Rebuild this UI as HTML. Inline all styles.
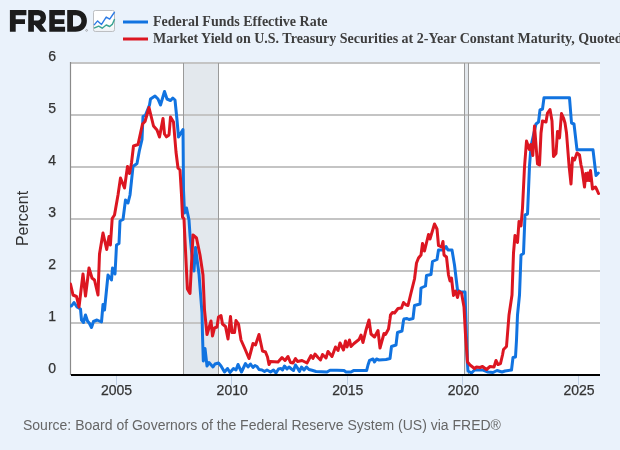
<!DOCTYPE html>
<html><head><meta charset="utf-8"><title>FRED</title>
<style>
html,body{margin:0;padding:0;background:#eaf2fb;}
body{width:620px;height:450px;overflow:hidden;font-family:"Liberation Sans",sans-serif;}
svg{display:block}
svg{will-change:transform;transform:translateZ(0)}
.ax{font-family:"Liberation Sans",sans-serif;font-size:14px;fill:#333;stroke:#333;stroke-width:0.25px}
.lg{font-family:"Liberation Serif",serif;font-size:14px;font-weight:bold;fill:#3e3e3e}
</style></head><body>
<svg width="620" height="450" viewBox="0 0 620 450">
<defs>
<linearGradient id="ig" x1="0" y1="0" x2="0" y2="1"><stop offset="0" stop-color="#ffffff"/><stop offset="0.6" stop-color="#ffffff"/><stop offset="1" stop-color="#eef1f4"/></linearGradient>
<clipPath id="cp"><rect x="70" y="62" width="531" height="314"/></clipPath>
</defs>
<rect x="0" y="0" width="620" height="450" fill="#eaf2fb"/>
<!-- plot bg -->
<rect x="70" y="62" width="530" height="313" fill="#ffffff"/>
<!-- recession bands -->
<rect x="183.5" y="63" width="35" height="312" fill="#e3e8ed"/>
<rect x="464.5" y="63" width="4" height="312" fill="#e3e8ed"/>
<!-- grid -->
<g fill="#c4c4c4">
<rect x="70" y="62" width="530" height="2"/>
<rect x="70" y="114" width="530" height="2"/>
<rect x="70" y="166" width="530" height="2"/>
<rect x="70" y="218" width="530" height="2"/>
<rect x="70" y="270" width="530" height="2"/>
<rect x="70" y="322" width="530" height="2"/>
</g>
<g stroke="#9a9a9a" stroke-width="1">
<line x1="183.5" x2="183.5" y1="63" y2="375"/><line x1="218.5" x2="218.5" y1="63" y2="375"/>
<line x1="464.5" x2="464.5" y1="63" y2="375"/><line x1="468.5" x2="468.5" y1="63" y2="375"/>
</g>
<line x1="70.5" x2="70.5" y1="62" y2="375" stroke="#8a8a8a" stroke-width="1.2"/>
<!-- series -->
<g clip-path="url(#cp)" fill="none" stroke-linejoin="round" stroke-linecap="round">
<path d="M70.5 306.0 L71.5 306.0 L74.0 302.5 L77.0 307.0 L80.5 309.0 L81.5 320.0 L83.5 322.5 L85.5 315.0 L87.5 321.0 L89.5 323.5 L91.5 327.5 L93.5 321.5 L97.0 320.0 L101.5 322.0 L103.0 304.5 L104.5 310.0 L105.5 300.0 L108.0 275.0 L111.5 280.0 L112.5 268.0 L115.0 274.0 L116.0 255.0 L116.5 245.0 L119.0 243.5 L120.0 221.0 L123.0 219.5 L125.5 200.0 L128.0 203.0 L130.0 195.0 L133.0 166.5 L137.0 163.5 L139.3 151.0 L142.0 139.5 L143.0 116.5 L145.5 115.0 L149.5 105.0 L150.5 99.0 L155.0 96.0 L158.0 99.0 L160.5 105.0 L164.5 91.5 L167.0 99.0 L170.5 100.5 L172.8 98.0 L175.0 100.0 L177.0 120.0 L178.5 137.0 L183.0 129.5 L183.5 190.0 L184.5 213.0 L186.5 208.0 L189.0 220.0 L190.0 235.0 L191.5 251.0 L194.0 271.0 L195.5 247.5 L197.5 263.0 L199.0 274.0 L202.0 313.0 L202.5 335.0 L203.3 361.0 L205.0 348.5 L207.0 366.0 L209.0 362.5 L213.0 367.0 L215.0 364.0 L218.5 363.0 L221.0 366.0 L224.5 372.0 L227.5 368.5 L230.0 372.5 L233.5 368.5 L236.0 370.0 L238.0 364.5 L241.5 372.0 L245.5 363.5 L248.0 367.0 L250.5 364.0 L253.0 367.5 L255.0 365.5 L257.0 366.5 L259.0 369.5 L262.0 370.0 L264.5 371.5 L267.0 370.0 L270.5 372.0 L273.5 370.0 L276.0 373.0 L278.5 369.0 L281.0 368.5 L282.5 370.0 L284.5 366.0 L287.0 369.0 L289.0 367.0 L291.5 369.0 L293.5 370.5 L295.5 365.0 L297.5 368.0 L299.5 371.5 L301.5 367.0 L304.0 370.0 L306.5 367.0 L309.0 369.5 L312.0 370.3 L316.0 371.5 L327.0 372.0 L330.0 370.2 L337.0 370.3 L344.0 370.6 L346.0 372.0 L351.0 372.0 L353.5 370.6 L366.6 370.6 L368.0 365.0 L369.6 360.3 L373.0 359.0 L374.5 362.0 L376.5 359.0 L379.0 360.0 L386.0 359.5 L390.0 358.5 L391.5 346.5 L396.0 345.0 L397.5 332.5 L402.0 331.0 L403.5 320.5 L404.0 319.0 L407.0 318.5 L409.0 319.5 L413.0 318.5 L414.5 305.5 L420.0 304.0 L421.0 288.0 L425.5 286.0 L426.5 275.5 L431.0 274.5 L432.5 261.5 L437.0 259.5 L438.5 250.0 L441.0 250.0 L443.5 250.0 L446.0 246.5 L448.0 250.0 L452.0 250.0 L454.5 265.0 L457.5 290.0 L461.0 292.0 L465.0 292.0 L467.2 360.0 L468.0 371.0 L471.5 373.0 L474.5 370.0 L483.0 370.0 L488.0 372.0 L493.0 372.5 L497.0 370.5 L502.0 372.0 L505.0 371.0 L511.5 370.0 L513.0 357.5 L515.5 357.0 L516.5 340.0 L517.5 315.0 L519.5 295.0 L521.0 255.0 L523.5 253.5 L525.0 215.0 L527.5 214.0 L529.5 166.0 L531.0 146.0 L536.0 124.0 L538.5 122.0 L540.0 110.0 L542.5 109.0 L544.0 97.8 L569.5 97.8 L571.5 123.0 L574.0 124.0 L577.0 149.8 L593.0 149.8 L596.0 175.5 L598.3 173.0" stroke="#1173e0" stroke-width="3"/>
<path d="M70.5 284.0 L73.0 295.0 L76.5 296.5 L79.0 307.0 L83.0 274.0 L85.5 296.0 L89.0 268.0 L92.0 278.0 L94.5 280.0 L98.0 295.0 L99.5 254.0 L103.0 233.0 L106.7 249.5 L109.0 236.5 L110.4 245.0 L112.2 218.5 L114.5 215.0 L118.0 195.0 L120.5 178.0 L124.5 188.0 L127.5 166.5 L129.5 173.5 L131.5 163.0 L133.5 146.0 L138.0 144.5 L142.5 124.0 L145.0 121.5 L149.0 107.5 L153.5 126.0 L157.0 130.0 L159.5 137.0 L163.0 118.5 L164.5 134.0 L166.5 136.8 L169.0 135.0 L170.5 117.0 L173.5 122.0 L176.0 152.0 L178.0 168.0 L180.0 170.0 L181.5 195.0 L182.5 217.0 L184.0 219.0 L184.6 232.0 L187.4 289.0 L190.0 293.5 L193.0 235.0 L196.5 238.0 L200.0 255.0 L203.0 275.0 L204.5 310.0 L207.0 334.5 L211.0 321.0 L212.5 336.0 L214.5 328.0 L217.0 327.0 L218.5 317.0 L221.0 315.5 L222.5 324.0 L225.5 326.5 L228.0 339.0 L230.5 316.5 L232.0 332.5 L234.5 332.5 L236.0 320.5 L238.5 324.0 L241.0 340.0 L245.0 349.0 L249.0 358.5 L253.0 343.5 L255.5 345.0 L259.0 334.5 L262.5 351.0 L265.5 352.0 L267.5 357.0 L269.0 364.5 L270.5 361.5 L278.0 362.0 L282.0 357.5 L285.0 360.5 L288.0 356.5 L290.5 362.5 L293.0 363.0 L295.5 358.5 L297.5 361.5 L302.0 360.5 L307.0 363.0 L311.0 355.5 L313.0 358.5 L315.0 354.0 L318.0 357.5 L320.5 360.0 L322.5 354.5 L326.0 358.0 L328.0 351.5 L332.0 356.5 L335.5 347.0 L338.0 350.5 L340.0 343.0 L343.5 350.0 L345.5 341.0 L347.0 347.0 L349.5 340.0 L351.0 346.5 L354.0 343.5 L359.0 339.5 L361.0 335.0 L363.0 342.5 L366.0 330.0 L369.0 320.0 L371.0 334.0 L374.5 337.0 L378.0 330.5 L380.0 348.0 L384.0 333.5 L385.5 334.5 L388.5 329.0 L390.0 319.0 L390.5 315.0 L392.5 312.5 L394.5 313.0 L398.0 308.5 L401.5 308.0 L403.5 302.5 L405.5 304.5 L408.0 305.5 L411.0 293.0 L414.5 279.0 L416.5 263.0 L418.5 258.0 L421.0 255.0 L422.5 243.5 L424.5 251.0 L428.5 234.5 L430.0 239.0 L434.5 224.0 L437.0 229.0 L438.5 245.5 L441.5 247.0 L443.0 241.5 L444.0 255.0 L446.5 257.0 L448.5 275.0 L450.0 281.0 L451.5 278.0 L452.5 287.0 L453.5 295.5 L455.5 291.0 L457.5 297.5 L459.0 291.5 L461.5 293.0 L464.0 307.0 L465.5 335.0 L467.5 362.0 L470.0 365.0 L474.5 368.5 L476.5 367.0 L480.0 367.5 L482.5 366.5 L486.5 369.5 L490.0 366.5 L494.0 367.0 L496.0 360.5 L498.0 364.5 L500.5 363.5 L502.5 355.0 L503.5 349.5 L506.5 346.5 L509.0 315.0 L512.0 295.0 L513.5 253.0 L515.0 235.5 L517.5 242.5 L519.0 221.5 L521.0 226.0 L522.5 208.0 L524.5 167.0 L526.5 141.0 L529.3 149.5 L530.8 144.5 L532.8 155.5 L534.5 126.0 L537.5 164.0 L539.5 165.0 L541.0 133.0 L542.5 121.0 L546.0 122.0 L547.5 113.0 L550.0 109.5 L552.0 121.0 L553.5 156.5 L556.0 153.5 L557.5 131.5 L559.5 138.0 L561.5 113.5 L563.5 118.0 L565.0 123.0 L566.5 133.0 L569.0 165.0 L571.0 184.0 L572.5 158.0 L574.5 160.0 L577.0 153.0 L579.5 155.0 L581.0 165.0 L582.0 169.0 L584.5 187.0 L585.8 173.5 L587.0 180.5 L588.0 173.0 L589.2 180.5 L590.5 170.5 L592.5 189.0 L595.5 187.0 L597.0 190.0 L598.5 193.5" stroke="#dc1621" stroke-width="3"/>
</g>
<!-- x axis -->
<rect x="71" y="374" width="529" height="2" fill="#000"/>
<g stroke="#c0d0e6" stroke-width="1">
<line x1="116.5" x2="116.5" y1="376" y2="385"/>
<line x1="231.5" x2="231.5" y1="376" y2="385"/>
<line x1="347.5" x2="347.5" y1="376" y2="385"/>
<line x1="462.5" x2="462.5" y1="376" y2="385"/>
<line x1="578.5" x2="578.5" y1="376" y2="385"/>
</g>
<g class="ax" text-anchor="middle">
<text x="116.6" y="395">2005</text>
<text x="232.2" y="395">2010</text>
<text x="347.8" y="395">2015</text>
<text x="463.4" y="395">2020</text>
<text x="579.1" y="395">2025</text>
</g>
<g class="ax" text-anchor="end">
<text x="56" y="61">6</text>
<text x="56" y="113">5</text>
<text x="56" y="165">4</text>
<text x="56" y="217">3</text>
<text x="56" y="269">2</text>
<text x="56" y="321">1</text>
<text x="56" y="373">0</text>
</g>
<text transform="translate(28,218.5) rotate(-90)" text-anchor="middle" style="font-family:'Liberation Sans',sans-serif;font-size:16px;fill:#333">Percent</text>
<!-- logo -->
<g fill="#1c1c1c" fill-rule="evenodd">
<path d="M9.9 9.9 H26.4 V15.3 H15.7 V19.2 H25 V24 H15.7 V31.7 H9.9 Z"/>
<path d="M28.2 9.9 H38.2 C43 9.9 46 12.8 46 17.4 C46 20.8 44.3 23.2 41.6 24.4 L46.8 31.7 H40.5 L34.6 25 H33.9 V31.7 H28.2 Z M33.9 15.2 V20.4 H37.8 C39.6 20.4 40.6 19.3 40.6 17.8 C40.6 16.2 39.6 15.2 37.8 15.2 Z"/>
<path d="M49.3 9.9 H64.9 V15.2 H54.8 V19.3 H64.3 V23.9 H54.8 V26.8 H65.1 V31.7 H49.3 Z"/>
<path d="M67.2 9.9 H75.5 C82.5 9.9 86.9 14.2 86.9 20.8 C86.9 27.4 82.5 31.7 75.5 31.7 H67.2 Z M73 15.3 V26.4 H75.5 C79.1 26.4 81.4 24.2 81.4 20.8 C81.4 17.5 79.1 15.3 75.5 15.3 Z"/>
</g>
<circle cx="86.6" cy="30.4" r="0.9" fill="none" stroke="#777" stroke-width="0.5"/>
<!-- icon -->
<rect x="93.5" y="10.5" width="21" height="21" rx="1.8" fill="url(#ig)" stroke="#bdbfc2" stroke-width="1"/>
<polyline points="94,25.1 97.6,20.9 101.5,24.4 106.2,17.1 109.7,19.1 114.6,12.0" fill="none" stroke="#2c7be5" stroke-width="1.4" stroke-linejoin="round"/>
<polyline points="94,28.2 98.7,26.1 102.2,28.2 106.2,25 109.7,26.5 112.5,24.1 114.6,19" fill="none" stroke="#3aa392" stroke-width="1.4" stroke-linejoin="round"/>
<!-- legend -->
<line x1="123" x2="148" y1="22" y2="22" stroke="#1173e0" stroke-width="3"/>
<line x1="123" x2="148" y1="39" y2="39" stroke="#dc1621" stroke-width="3"/>
<text class="lg" x="153" y="26">Federal Funds Effective Rate</text>
<text class="lg" x="153" y="42.9">Market Yield on U.S. Treasury Securities at 2-Year Constant Maturity, Quoted</text>
<!-- source -->
<text x="23" y="429.7" style="font-family:'Liberation Sans',sans-serif;font-size:14px;fill:#666">Source: Board of Governors of the Federal Reserve System (US) via FRED®</text>
</svg>
</body></html>
